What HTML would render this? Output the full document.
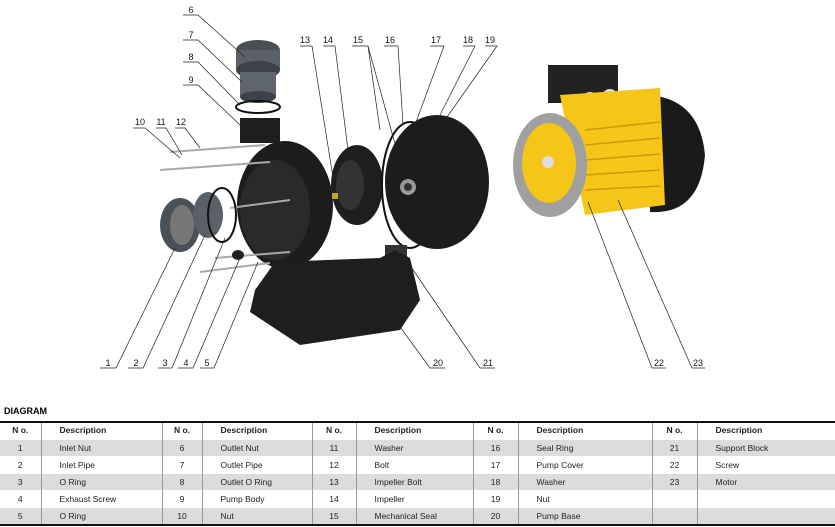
<!DOCTYPE html>
<html><head><style>
body{margin:0;width:835px;height:527px;background:#fff;font-family:"Liberation Sans",sans-serif;position:relative;overflow:hidden}
svg{position:absolute;left:0;top:0}
.t{position:absolute;left:0;top:421px;border-collapse:collapse;font-size:8.5px;color:#222;table-layout:fixed}
.t td{height:16px;line-height:16px;padding:0;border-left:1px solid #999;border-top:1px solid #fff;box-sizing:border-box}
.t td:first-child{border-left:none}
.t tr.h td{height:17px;line-height:15px;font-weight:bold;border-top:2px solid #111}
.t tr.g td{background:#dcdcdc}
.t tr:last-child td{border-bottom:2px solid #111;height:18px}
.c{text-align:center}
.d{padding-left:18px!important}
.title{position:absolute;left:4px;top:406px;font-size:9px;font-weight:bold}
</style></head><body>
<svg width="835" height="400" viewBox="0 0 835 400" font-family="Liberation Sans" font-size="9" fill="#111">
<ellipse cx="258" cy="50" rx="22" ry="10" fill="#4a4f55"/><rect x="236" y="50" width="44" height="20" fill="#5a6068"/><ellipse cx="258" cy="70" rx="22" ry="9" fill="#3d4248"/>
<rect x="240" y="72" width="36" height="25" fill="#5f656d"/><ellipse cx="258" cy="97" rx="18" ry="6" fill="#3d4248"/>
<ellipse cx="258" cy="107" rx="22" ry="6" fill="none" stroke="#111" stroke-width="2"/>
<rect x="240" y="118" width="40" height="25" fill="#1e1e1e"/>
<ellipse cx="285" cy="205" rx="48" ry="64" fill="#1c1c1c"/>
<ellipse cx="275" cy="210" rx="35" ry="50" fill="#2a2a2a"/>
<g stroke="#aaa" stroke-width="2"><line x1="170" y1="152" x2="265" y2="145"/><line x1="160" y1="170" x2="270" y2="162"/><line x1="230" y1="208" x2="290" y2="200"/><line x1="215" y1="258" x2="290" y2="252"/><line x1="200" y1="272" x2="270" y2="263"/></g>
<ellipse cx="180" cy="225" rx="20" ry="27" fill="#4a5058"/><ellipse cx="182" cy="225" rx="12" ry="20" fill="#777"/>
<ellipse cx="208" cy="215" rx="15" ry="23" fill="#5a6068"/>
<ellipse cx="222" cy="215" rx="14" ry="27" fill="none" stroke="#111" stroke-width="2"/>
<ellipse cx="238" cy="255" rx="6" ry="5" fill="#222"/>
<ellipse cx="357" cy="185" rx="26" ry="40" fill="#1e1e1e"/><ellipse cx="350" cy="185" rx="14" ry="25" fill="#333"/>
<rect x="332" y="193" width="6" height="6" fill="#c8a030"/>
<ellipse cx="410" cy="185" rx="28" ry="63" fill="none" stroke="#111" stroke-width="2"/>
<ellipse cx="437" cy="182" rx="52" ry="67" fill="#1c1c1c"/><circle cx="408" cy="187" r="8" fill="#999"/><circle cx="408" cy="187" r="4" fill="#333"/>
<rect x="385" y="245" width="22" height="15" fill="#333"/>
<polygon points="255,290 275,262 380,258 395,250 410,258 420,300 400,330 300,345 250,312" fill="#1e1e1e"/>
<rect x="515" y="160" width="40" height="7" fill="#aaa"/>
<rect x="548" y="65" width="70" height="38" fill="#222"/>
<circle cx="590" cy="100" r="8" fill="#ddd"/><circle cx="610" cy="97" r="8" fill="#ddd"/>
<path d="M650 95 Q700 100 705 155 Q700 215 650 212 Z" fill="#1a1a1a"/>
<path d="M560 95 L660 88 L665 205 L585 215 Z" fill="#f5c518"/>
<g stroke="#c89a10" stroke-width="1.5"><line x1="585" y1="130" x2="660" y2="122"/><line x1="585" y1="145" x2="660" y2="138"/><line x1="585" y1="160" x2="660" y2="154"/><line x1="585" y1="175" x2="660" y2="170"/><line x1="585" y1="190" x2="660" y2="186"/></g>
<ellipse cx="550" cy="165" rx="37" ry="52" fill="#a0a0a0"/><ellipse cx="549" cy="163" rx="27" ry="40" fill="#f5c518"/><circle cx="548" cy="162" r="6" fill="#ddd"/>
<g stroke="#222" stroke-width="0.7" fill="none">
<polyline points="183,15 198,15 245,57"/><polyline points="183,40 198,40 242,82"/><polyline points="183,62 198,62 240,105"/><polyline points="183,85 198,85 240,125"/>
<polyline points="133,128 145,128 180,158"/><polyline points="156,128 166,128 182,155"/><polyline points="175,128 185,128 200,148"/>
<polyline points="100,368 116,368 175,248"/><polyline points="128,368 143,368 205,235"/><polyline points="158,368 172,368 225,238"/><polyline points="178,368 193,368 240,258"/><polyline points="200,368 214,368 258,262"/>
<polyline points="300,46 312,46 335,190"/><polyline points="323,46 335,46 348,150"/><polyline points="352,46 368,46 405,180"/><line x1="368" y1="46" x2="380" y2="130"/><polyline points="384,46 398,46 403,125"/><polyline points="430,46 444,46 415,125"/><polyline points="463,46 475,46 440,115"/><polyline points="485,46 497,46 445,120"/>
<polyline points="445,368 430,368 395,320"/><polyline points="495,368 480,368 405,258"/><polyline points="666,368 652,368 588,202"/><polyline points="705,368 692,368 618,200"/>
</g>
<g text-anchor="middle">
<text x="191" y="13">6</text><text x="191" y="38">7</text><text x="191" y="60">8</text><text x="191" y="83">9</text>
<text x="140" y="125">10</text><text x="161" y="125">11</text><text x="181" y="125">12</text>
<text x="108" y="366">1</text><text x="136" y="366">2</text><text x="165" y="366">3</text><text x="186" y="366">4</text><text x="207" y="366">5</text>
<text x="305" y="43">13</text><text x="328" y="43">14</text><text x="358" y="43">15</text><text x="390" y="43">16</text><text x="436" y="43">17</text><text x="468" y="43">18</text><text x="490" y="43">19</text>
<text x="438" y="366">20</text><text x="488" y="366">21</text><text x="659" y="366">22</text><text x="698" y="366">23</text>
</g>
</svg>
<div class="title">DIAGRAM</div>
<table class="t">
<colgroup><col style="width:41px"><col style="width:121px"><col style="width:40px"><col style="width:110px"><col style="width:44px"><col style="width:117px"><col style="width:45px"><col style="width:134px"><col style="width:45px"><col style="width:138px"></colgroup>
<tr class="h"><td class="c">N o.</td><td class="d">Description</td><td class="c">N o.</td><td class="d">Description</td><td class="c">N o.</td><td class="d">Description</td><td class="c">N o.</td><td class="d">Description</td><td class="c">N o.</td><td class="d">Description</td></tr>
<tr class="g"><td class="c">1</td><td class="d">Inlet Nut</td><td class="c">6</td><td class="d">Outlet Nut</td><td class="c">11</td><td class="d">Washer</td><td class="c">16</td><td class="d">Seal Ring</td><td class="c">21</td><td class="d">Support Block</td></tr>
<tr><td class="c">2</td><td class="d">Inlet Pipe</td><td class="c">7</td><td class="d">Outlet Pipe</td><td class="c">12</td><td class="d">Bolt</td><td class="c">17</td><td class="d">Pump Cover</td><td class="c">22</td><td class="d">Screw</td></tr>
<tr class="g"><td class="c">3</td><td class="d">O Ring</td><td class="c">8</td><td class="d">Outlet O Ring</td><td class="c">13</td><td class="d">Impeller Bolt</td><td class="c">18</td><td class="d">Washer</td><td class="c">23</td><td class="d">Motor</td></tr>
<tr><td class="c">4</td><td class="d">Exhaust Screw</td><td class="c">9</td><td class="d">Pump Body</td><td class="c">14</td><td class="d">Impeller</td><td class="c">19</td><td class="d">Nut</td><td class="c"></td><td class="d"></td></tr>
<tr class="g"><td class="c">5</td><td class="d">O Ring</td><td class="c">10</td><td class="d">Nut</td><td class="c">15</td><td class="d">Mechanical Seal</td><td class="c">20</td><td class="d">Pump Base</td><td class="c"></td><td class="d"></td></tr>
</table>
</body></html>
